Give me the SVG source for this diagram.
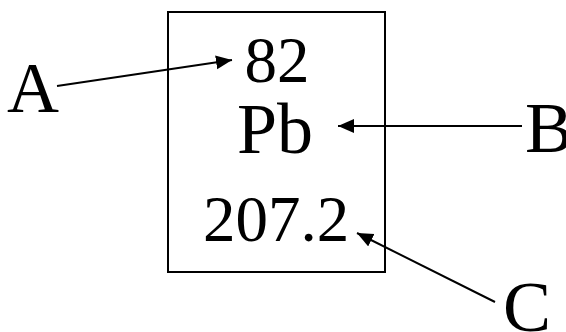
<svg xmlns="http://www.w3.org/2000/svg" width="566" height="332" viewBox="0 0 566 332">
<style>
.t{font-family:"Liberation Serif","Times New Roman",serif;fill:#000}
.l{font-size:72px}
.n{font-size:65px}
.c{stroke:#000;stroke-width:2;fill:none;marker-end:url(#ah)}
</style>
<defs>
<marker id="ah" markerUnits="userSpaceOnUse" markerWidth="18" markerHeight="16" refX="16" refY="7" orient="auto">
<path d="M0,0 L16,7 L0,14 Z" fill="#000"/>
</marker>
</defs>
<rect width="566" height="332" fill="#fff"/>
<g id="element">
<rect x="168" y="12" width="217" height="260" fill="none" stroke="#000" stroke-width="2"/>
<text class="t n" x="244.5" y="82">82</text>
<text class="t l" x="237" y="153">Pb</text>
<text class="t n" x="203" y="241">207.2</text>
</g>
<g id="labelA"><text class="t l" x="7" y="112">A</text></g>
<g id="labelB"><text class="t l" x="525" y="152">B</text></g>
<g id="labelC"><text class="t l" x="503" y="331">C</text></g>
<g id="connectors">
<line class="c" x1="57" y1="86" x2="232" y2="60"/>
<line class="c" x1="522" y1="126" x2="338" y2="126"/>
<line class="c" x1="495" y1="302" x2="357" y2="233"/>
</g>
</svg>
